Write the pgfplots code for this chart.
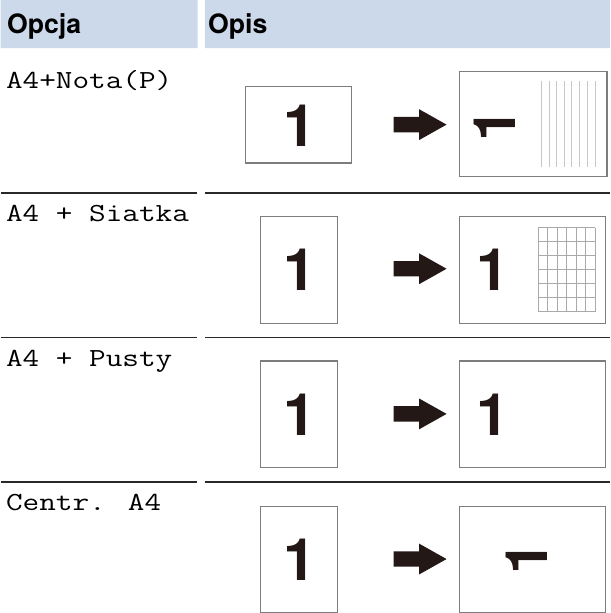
\documentclass[border=0pt]{standalone}
\usepackage{fontspec}
\setmainfont{TeX Gyre Heros}
\usepackage{graphicx}
\usepackage{pgfplots}
\pgfplotsset{compat=1.18}
\definecolor{hdr}{RGB}{204,217,234}
\definecolor{ink}{RGB}{35,24,21}
\definecolor{boxc}{RGB}{125,125,125}
\definecolor{linec}{RGB}{200,200,200}
\definecolor{sep}{RGB}{40,40,40}
\newcommand{\opt}[1]{\scalebox{1.24}[1]{\ttfamily\fontsize{25.4}{30}\selectfont #1}}
\newcommand{\one}{\fontsize{57}{60}\selectfont\bfseries 1}
\begin{document}
\begin{tikzpicture}
\begin{axis}[width=601pt,height=613pt,scale only axis,
  xmin=0,xmax=601,ymin=0,ymax=613,y dir=reverse,
  axis lines=none,clip=false,unbounded coords=jump]
% header bands
\addplot[fill=hdr,draw=none] coordinates {(7,7)(199,7)(199,54)(7,54)(7,7)};
\addplot[fill=hdr,draw=none] coordinates {(206,7)(601,7)(601,54)(206,54)(206,7)};
% separators
\addplot[sep,line width=1.3pt] coordinates {(7,195)(198,195)(nan,nan)(206,195)(601,195)};
\addplot[sep,line width=1.3pt] coordinates {(7,336)(198,336)(nan,nan)(206,336)(601,336)};
\addplot[sep,line width=1.3pt] coordinates {(7,477)(198,477)(nan,nan)(206,477)(601,477)};
% row 1 boxes
\addplot[boxc,line width=1.2pt] coordinates {(245.7,91)(349,91)(349,166)(245.7,166)(245.7,91)};
\addplot[boxc,line width=1.2pt] coordinates {(454,77)(598,77)(598,179)(454,179)(454,77)};
\addplot[linec,line width=1pt] coordinates {
(534.3,86)(534.3,170)(nan,nan)(541.7,86)(541.7,170)(nan,nan)
(549,86)(549,170)(nan,nan)(556.2,86)(556.2,170)(nan,nan)
(563.7,86)(563.7,170)(nan,nan)(571,86)(571,170)(nan,nan)
(578.7,86)(578.7,170)(nan,nan)(586.7,86)(586.7,170)};
% row 2 boxes
\addplot[boxc,line width=1.2pt] coordinates {(260,218)(335,218)(335,322)(260,322)(260,218)};
\addplot[boxc,line width=1.2pt] coordinates {(454,218)(597,218)(597,322)(454,322)(454,218)};
\addplot[linec!85!black,line width=0.8pt] coordinates {
(531,229)(531,310.7)(nan,nan)(540.3,229)(540.3,310.7)(nan,nan)
(549.6,229)(549.6,310.7)(nan,nan)(558.9,229)(558.9,310.7)(nan,nan)
(568.1,229)(568.1,310.7)(nan,nan)(577.4,229)(577.4,310.7)(nan,nan)
(586.7,229)(586.7,310.7)(nan,nan)
(531,229)(586.7,229)(nan,nan)(531,242.6)(586.7,242.6)(nan,nan)
(531,256.2)(586.7,256.2)(nan,nan)(531,269.9)(586.7,269.9)(nan,nan)
(531,283.5)(586.7,283.5)(nan,nan)(531,297.1)(586.7,297.1)(nan,nan)
(531,310.7)(586.7,310.7)};
% row 3 boxes
\addplot[boxc,line width=1.2pt] coordinates {(260,359)(335,359)(335,463)(260,463)(260,359)};
\addplot[boxc,line width=1.2pt] coordinates {(454,359)(597,359)(597,463)(454,463)(454,359)};
% row 4 boxes
\addplot[boxc,line width=1.2pt] coordinates {(260,501)(335,501)(335,604)(260,604)(260,501)};
\addplot[boxc,line width=1.2pt] coordinates {(454,501)(597,501)(597,604)(454,604)(454,501)};
% arrows
\addplot[fill=ink,draw=none] coordinates {(390,121)(415,121)(415,113.5)(441.7,128.5)(415,143.5)(415,136)(390,136)(390,121)};
\addplot[fill=ink,draw=none] coordinates {(390,261.5)(415,261.5)(415,254)(441.7,269)(415,284)(415,276.5)(390,276.5)(390,261.5)};
\addplot[fill=ink,draw=none] coordinates {(390,403)(415,403)(415,395.5)(441.7,410.5)(415,425.5)(415,418)(390,418)(390,403)};
\addplot[fill=ink,draw=none] coordinates {(390,544.5)(415,544.5)(415,537)(441.7,552)(415,567)(415,559.5)(390,559.5)(390,544.5)};
% header texts
\node[anchor=base west,inner sep=0] at (axis cs:13,40) {\fontsize{26}{30}\selectfont\bfseries Opcja};
\node[anchor=base west,inner sep=0] at (axis cs:209,40) {\fontsize{26}{30}\selectfont\bfseries Opis};
% option texts
\node[anchor=base west,inner sep=0] at (axis cs:12,93) {\opt{A4+Nota(P)}};
\node[anchor=base west,inner sep=0] at (axis cs:12,223) {\opt{A4 + Siatka}};
\node[anchor=base west,inner sep=0] at (axis cs:12,364) {\opt{A4 + Pusty}};
\node[anchor=base west,inner sep=0] at (axis cs:12,505) {\opt{Centr. A4}};
% digits
\node[anchor=base,inner sep=0,text=ink] at (axis cs:299,150) {\one};
\node[anchor=base,inner sep=0,text=ink] at (axis cs:299,290) {\one};
\node[anchor=base,inner sep=0,text=ink] at (axis cs:487,290) {\one};
\node[anchor=base,inner sep=0,text=ink] at (axis cs:299,432) {\one};
\node[anchor=base,inner sep=0,text=ink] at (axis cs:487,432) {\one};
\node[anchor=base,inner sep=0,text=ink] at (axis cs:299,573) {\one};
\node[anchor=center,inner sep=0,text=ink] at (axis cs:489,129) {\rotatebox{90}{\one}};
\node[anchor=center,inner sep=0,text=ink] at (axis cs:519.5,551) {\rotatebox{90}{\one}};
\end{axis}
\end{tikzpicture}
\end{document}
